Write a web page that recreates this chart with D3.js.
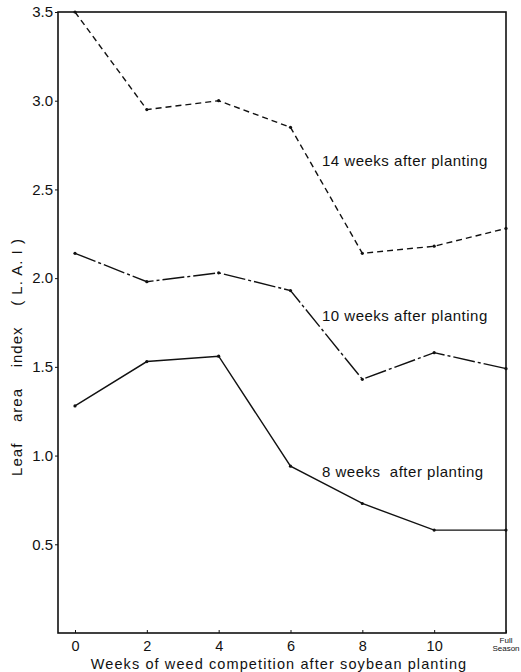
<!DOCTYPE html>
<html>
<head>
<meta charset="utf-8">
<script src="https://cdn.jsdelivr.net/npm/d3@7"></script>
<style>
  body { margin: 0; background: #fff; }
  svg { display: block; font-family: "Liberation Sans", Arial, sans-serif; }
</style>
</head>
<body>
<svg id="chart" width="521" height="672"></svg>
<script>
// weeks of weed competition (last one is "Full season")
const weeks = ["0", "2", "4", "6", "8", "10", "Full season"];
const yTicks = [0.5, 1.0, 1.5, 2.0, 2.5, 3.0, 3.5];

// leaf area index
const lai14 = [3.5, 2.95, 3.0, 2.85, 2.14, 2.18, 2.28];
const lai10 = [2.14, 1.98, 2.03, 1.93, 1.43, 1.58, 1.49];
const lai8 = [1.28, 1.53, 1.56, 0.94, 0.73, 0.58, 0.58];

const seriesNames = ["14 weeks after planting", "10 weeks after planting", "8 weeks  after planting"];

const svg = d3.select("#chart");
const plotLeft = 58, plotRight = 506, plotTop = 12, plotBottom = 633;

const x = d3.scalePoint()
    .domain(weeks)
    .range([75, 506]);

const y = d3.scaleLinear()
    .domain([0, 3.5])
    .range([plotBottom, plotTop]);

// frame
svg.append("rect")
    .attr("x", plotLeft).attr("y", plotTop)
    .attr("width", plotRight - plotLeft).attr("height", plotBottom - plotTop)
    .attr("fill", "none")
    .attr("stroke", "#111")
    .attr("stroke-width", 1.6);

// y axis
const yAxis = d3.axisLeft(y)
    .tickValues(yTicks)
    .tickSize(3)
    .tickPadding(2)
    .tickFormat(d3.format(".1f"));

const gy = svg.append("g")
    .attr("transform", "translate(" + plotLeft + ",0)")
    .call(yAxis);
gy.select(".domain").remove();
gy.selectAll("text").attr("font-size", 15).attr("fill", "#111");
gy.selectAll("line").attr("stroke", "#111");

// x axis, ticks pointing inward
const xAxis = d3.axisBottom(x)
    .tickSize(-3)
    .tickPadding(8)
    .tickFormat(d => d === "Full season" ? "" : d);

const gx = svg.append("g")
    .attr("transform", "translate(0," + plotBottom + ")")
    .call(xAxis);
gx.select(".domain").remove();
gx.selectAll("text").attr("font-size", 14.5).attr("fill", "#111");
gx.selectAll("line").attr("stroke", "#111");

// two-line small label for full season
const fs = svg.append("text")
    .attr("x", x("Full season"))
    .attr("y", plotBottom + 10)
    .attr("text-anchor", "middle")
    .attr("font-size", 8)
    .attr("fill", "#111");
fs.append("tspan").attr("x", x("Full season")).text("Full");
fs.append("tspan").attr("x", x("Full season")).attr("dy", 8).text("Season");

// lines
const line = d3.line()
    .x((d, i) => x(weeks[i]))
    .y(d => y(d));

const series = [
    { values: lai14, dash: "6,4", labelY: 2.63 },
    { values: lai10, dash: "22,3,3,3", labelY: 1.76 },
    { values: lai8, dash: null, labelY: 0.88 }
];

series.forEach((s, k) => {
    svg.append("path")
        .datum(s.values)
        .attr("d", line)
        .attr("fill", "none")
        .attr("stroke", "#111")
        .attr("stroke-width", 1.4)
        .attr("stroke-dasharray", s.dash);

    svg.selectAll(null)
        .data(s.values)
        .enter()
        .append("circle")
        .attr("cx", (d, i) => x(weeks[i]))
        .attr("cy", d => y(d))
        .attr("r", 1.6)
        .attr("fill", "#111");

    svg.append("text")
        .attr("x", 322)
        .attr("y", y(s.labelY))
        .attr("font-size", 15)
        .attr("letter-spacing", 0.5)
        .attr("fill", "#111")
        .attr("xml:space", "preserve")
        .text(seriesNames[k]);
});

// axis titles
svg.append("text")
    .attr("transform", "translate(22," + 357 + ") rotate(-90)")
    .attr("text-anchor", "middle")
    .attr("font-size", 15)
    .attr("letter-spacing", 1)
    .attr("fill", "#111")
    .attr("xml:space", "preserve")
    .text("Leaf    area    index    ( L. A. I )");

svg.append("text")
    .attr("x", 279)
    .attr("y", 669)
    .attr("text-anchor", "middle")
    .attr("font-size", 14.5)
    .attr("letter-spacing", 1.1)
    .attr("fill", "#111")
    .text("Weeks of weed competition after soybean planting");
</script>
</body>
</html>
